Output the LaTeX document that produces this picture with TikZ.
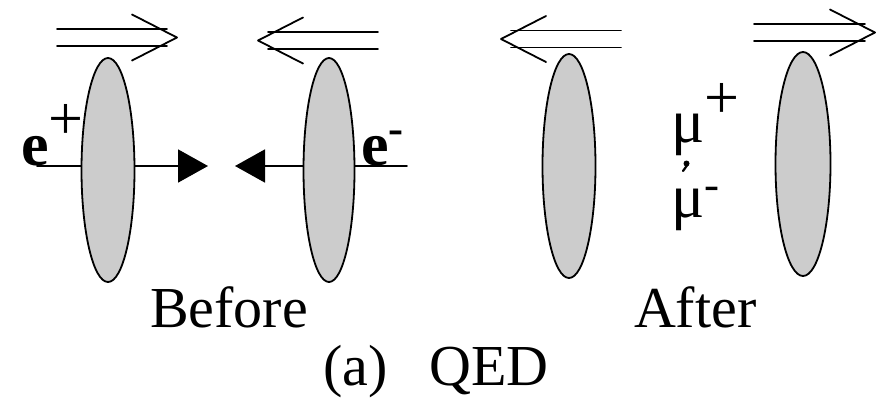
\documentclass[tikz,border=0pt]{standalone}
\usepackage{fontspec}
\setmainfont{Liberation Serif}
\usetikzlibrary{arrows.meta,shapes.geometric}
\definecolor{BeamFill}{gray}{0.80}
\definecolor{BeamInk}{gray}{0.0}
\tikzset{
    qed/diagram/.style={
        x={(1pt,0pt)}, y={(0pt,-1pt)},
        line cap=round, line join=round,
        every node/.style={inner sep=0pt, outer sep=0pt}
    },
    qed/beam/.style={
        ellipse, draw=BeamInk, fill=BeamFill, line width=1.8pt,
        inner sep=0pt, minimum width=53pt, minimum height=224pt
    },
    qed/spin/.style={draw=BeamInk, line width=1.8pt},
    qed/track/.style={
        draw=BeamInk, line width=1.8pt,
        -{Triangle[length=30pt, width=33pt]}
    },
    qed/big/.style={font=\fontsize{58}{66}\selectfont, anchor=base west},
    qed/charge/.style={font=\fontsize{62}{70}\selectfont, anchor=base west}
}
\begin{document}
\begin{tikzpicture}[qed/diagram]
    \useasboundingbox (0,0) rectangle (886,397);
    % incoming tracks (drawn below the beams)
    \coordinate (ePlusTail) at (37,166);
    \coordinate (ePlusTip) at (208,166);
    \coordinate (eMinusTail) at (407,166);
    \coordinate (eMinusTip) at (235,166);
    \draw[qed/track] (ePlusTail) -- (ePlusTip);
    \draw[qed/track] (eMinusTail) -- (eMinusTip);
    % flattened bunches
    \node[qed/beam] (ePlus) at (108,170) {};
    \node[qed/beam, minimum width=51pt] (eMinus) at (329,170) {};
    \node[qed/beam] (muOne) at (569,166) {};
    \node[qed/beam, minimum width=55pt] (muTwo) at (803,164) {};
    % spin arrows: tail / tip / centre line
    \foreach \tail/\tip/\yc in {57/177/37.5, 378/258/40.5, 621/501/39, 754/875/32.5}{
        \pgfmathsetmacro\dir{sign(\tip-\tail)}
        \draw[qed/spin] (\tail,\yc-8.5) -- ({\tip-10*\dir},\yc-8.5);
        \draw[qed/spin] (\tail,\yc+8.5) -- ({\tip-10*\dir},\yc+8.5);
        \draw[qed/spin] ({\tip-45*\dir},\yc-23) -- (\tip,\yc)
            -- ({\tip-45*\dir},\yc+23);
    }
    % particle labels
    \node[qed/charge] (ePlusLabel) at (21,165)
        {\textbf{e}\raisebox{26pt}{+}};
    \node[qed/charge] (eMinusLabel) at (361,165)
        {\textbf{e}\raisebox{22pt}{\fontsize{45}{50}\selectfont\bfseries -}};
    \node[qed/charge] (muPlusLabel) at (671,142)
        {μ\raisebox{24pt}{+}};
    \node[qed/charge] (muMinusLabel) at (671,217)
        {μ\raisebox{18pt}{\fontsize{45}{50}\selectfont -}};
    % small separating mark between the two muons
    \fill[BeamInk] (686.5,163.5) circle (3pt);
    \draw[BeamInk, line width=2.2pt] (688,164) -- (683,171);
    % captions
    \node[qed/big] (before) at (150,327) {Before};
    \node[qed/big] (after) at (634,327) {After};
    \node[qed/big] (caption) at (323,385) {(a)\hspace{42pt}QED};
\end{tikzpicture}
\end{document}
